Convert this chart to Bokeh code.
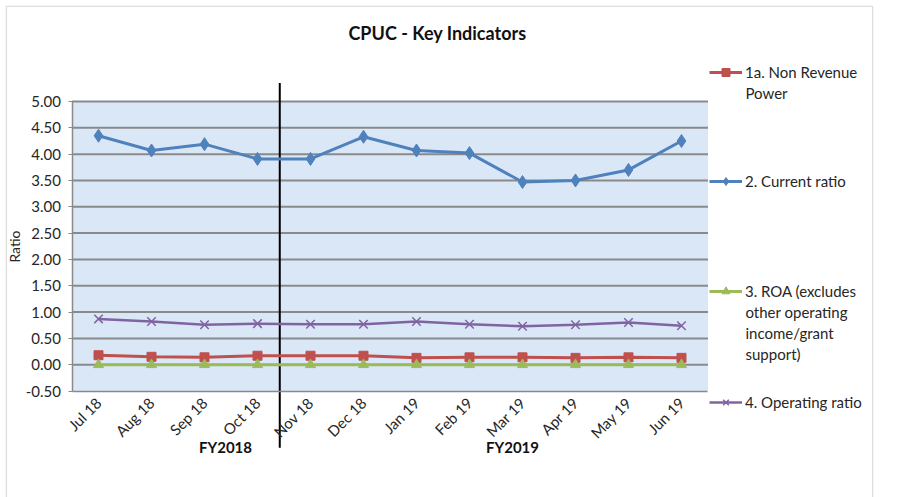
import math
from bokeh.plotting import figure
from bokeh.models import (Range1d, FixedTicker, NumeralTickFormatter,
                          Label, Legend, LegendItem, BoxAnnotation)
from bokeh.embed import file_html
from bokeh.resources import INLINE

# ---- data ----
months = ["Jul 18", "Aug 18", "Sep 18", "Oct 18", "Nov 18", "Dec 18",
          "Jan 19", "Feb 19", "Mar 19", "Apr 19", "May 19", "Jun 19"]
non_revenue_power = [0.18, 0.15, 0.14, 0.17, 0.17, 0.17, 0.13, 0.14, 0.14, 0.13, 0.14, 0.13]
current_ratio = [4.35, 4.07, 4.19, 3.91, 3.91, 4.33, 4.07, 4.02, 3.47, 3.50, 3.70, 4.25]
roa = [0.00, 0.00, 0.00, 0.00, 0.00, 0.00, 0.00, 0.00, 0.00, 0.00, 0.00, 0.00]
operating_ratio = [0.87, 0.82, 0.76, 0.78, 0.77, 0.77, 0.82, 0.77, 0.73, 0.76, 0.80, 0.74]
y_ticks = [-0.5, 0.0, 0.5, 1.0, 1.5, 2.0, 2.5, 3.0, 3.5, 4.0, 4.5, 5.0]
fy_labels = ["FY2018", "FY2019"]
series_names = ["1a. Non Revenue\nPower", "2. Current ratio",
                "3. ROA (excludes\nother operating\nincome/grant\nsupport)", "4. Operating ratio"]
title_text = "CPUC - Key Indicators"

# ---- layout / style constants ----
FONT = "Lato"
RED, BLUE, GREEN, PURPLE = "#c0504d", "#4f81bd", "#9bbb59", "#8064a2"
TXT = "#262626"
W, H = 914, 497
FL, FT, FR = 5, 5, 873            # chart frame (outer border) in page px
FB = H
X_LO, X_HI = -1.755, 14.623       # data range spanning the frame
Y_LO, Y_HI = -2.523, 6.824
DIVIDER_X = 3.42
DIVIDER_Y = (-1.58, 5.35)
PX_X = (X_HI - X_LO) / (FR - FL)
PX_Y = (Y_HI - Y_LO) / (FB - FT)

x_idx = list(range(len(months)))
area_left, area_right = -0.5, len(months) - 0.5
y_min, y_max = y_ticks[0], y_ticks[-1]

p = figure(width=W, height=H, output_backend="svg", toolbar_location=None,
           x_range=Range1d(X_LO, X_HI), y_range=Range1d(Y_LO, Y_HI),
           min_border_left=FL, min_border_top=FT, min_border_right=W - FR,
           min_border_bottom=0)
p.background_fill_color = "white"
p.border_fill_color = "white"
p.outline_line_color = None
p.xgrid.visible = False
p.ygrid.visible = False

# outer chart border (bottom edge runs off the page as in the reference)
p.add_layout(BoxAnnotation(left=X_LO + 0.8 * PX_X, right=X_HI - 0.8 * PX_X,
                           top=Y_HI - 0.8 * PX_Y, bottom=Y_LO - 10 * PX_Y,
                           fill_alpha=0, line_color="#8f8f8f", line_width=1.5,
                           level="underlay"))
# plot area background
p.add_layout(BoxAnnotation(left=area_left, right=area_right, bottom=y_min, top=y_max,
                           fill_color="#dae7f6", fill_alpha=1, line_color=None,
                           level="underlay"))
# horizontal gridlines
p.segment(x0=area_left, x1=area_right, y0=y_ticks[1:], y1=y_ticks[1:],
          line_color="#8a8a8a", line_width=2)

# axes positioned at the plot-area edges
yax = p.yaxis[0]
yax.fixed_location = area_left
yax.bounds = (y_min, y_max)
yax.ticker = FixedTicker(ticks=y_ticks)
yax.formatter = NumeralTickFormatter(format="0.00")
yax.axis_label = "Ratio"
yax.major_label_standoff = 7

xax = p.xaxis[0]
xax.fixed_location = y_min
xax.bounds = (area_left, area_right)
xax.ticker = FixedTicker(ticks=x_idx)
xax.major_label_overrides = {i: m for i, m in zip(x_idx, months)}
xax.major_label_orientation = math.pi / 4

for ax in (xax, yax):
    ax.axis_line_color = "#8a8a8a"
    ax.axis_line_width = 1.5
    ax.major_tick_line_color = "#8a8a8a"
    ax.major_tick_in = 0
    ax.major_tick_out = 4
    ax.minor_tick_line_color = None
    ax.major_label_text_font = FONT
    ax.major_label_text_font_size = "15px"
    ax.major_label_text_color = TXT
    ax.axis_label_text_font = FONT
    ax.axis_label_text_font_size = "14px"
    ax.axis_label_text_font_style = "normal"
    ax.axis_label_text_color = TXT
xax.major_tick_line_color = None
yax.axis_label_standoff = 0

# divider between fiscal years
p.segment(x0=[DIVIDER_X], x1=[DIVIDER_X], y0=[DIVIDER_Y[0]], y1=[DIVIDER_Y[1]],
          line_color="black", line_width=2)

# series
r1 = p.line(x_idx, non_revenue_power, line_color=RED, line_width=3)
m1 = p.scatter(x_idx, non_revenue_power, marker="square", size=9, color=RED)
r2 = p.line(x_idx, current_ratio, line_color=BLUE, line_width=3)
m2 = p.scatter(x_idx, current_ratio, marker="diamond", size=13, color=BLUE)
r3 = p.line(x_idx, roa, line_color=GREEN, line_width=3)
m3 = p.scatter(x_idx, roa, marker="triangle", size=10, color=GREEN)
r4 = p.line(x_idx, operating_ratio, line_color=PURPLE, line_width=2.5)
m4 = p.scatter(x_idx, operating_ratio, marker="x", size=12, line_color=PURPLE, line_width=1.5)


def sx(px):
    return px - FL


def sy(py):
    return FB - py


def add_text(txt, px, py, size="15px", bold=False, align="left"):
    p.add_layout(Label(x=sx(px), y=sy(py), x_units="screen", y_units="screen", text=txt,
                       text_font=FONT, text_font_size=size,
                       text_font_style="bold" if bold else "normal",
                       text_color="#111111" if bold else TXT,
                       text_align=align, text_baseline="middle"))


legend_rows = [72, 181, 291, 402]      # page y of first legend line
LINE_H = 20.8
for name, rends, row in zip(series_names, [[r1, m1], [r2, m2], [r3, m3], [r4, m4]], legend_rows):
    lines = name.split("\n")
    lg = Legend(items=[LegendItem(label=lines[0], renderers=rends)],
                location=(sx(709), sy(row + 10)), orientation="vertical",
                border_line_color=None, background_fill_alpha=0,
                padding=0, margin=0, spacing=0, glyph_width=33, glyph_height=20,
                label_standoff=3, label_height=20,
                label_text_font=FONT, label_text_font_size="15px",
                label_text_color=TXT)
    p.add_layout(lg, "center")
    for k, extra in enumerate(lines[1:], start=1):
        add_text(extra, 745, row + k * LINE_H)

add_text(title_text, 437, 32, size="18px", bold=True, align="center")
add_text(fy_labels[0], 225, 446, bold=True, align="center")
add_text(fy_labels[1], 512, 446, bold=True, align="center")

open("out.html", "w").write(file_html(p, INLINE))
